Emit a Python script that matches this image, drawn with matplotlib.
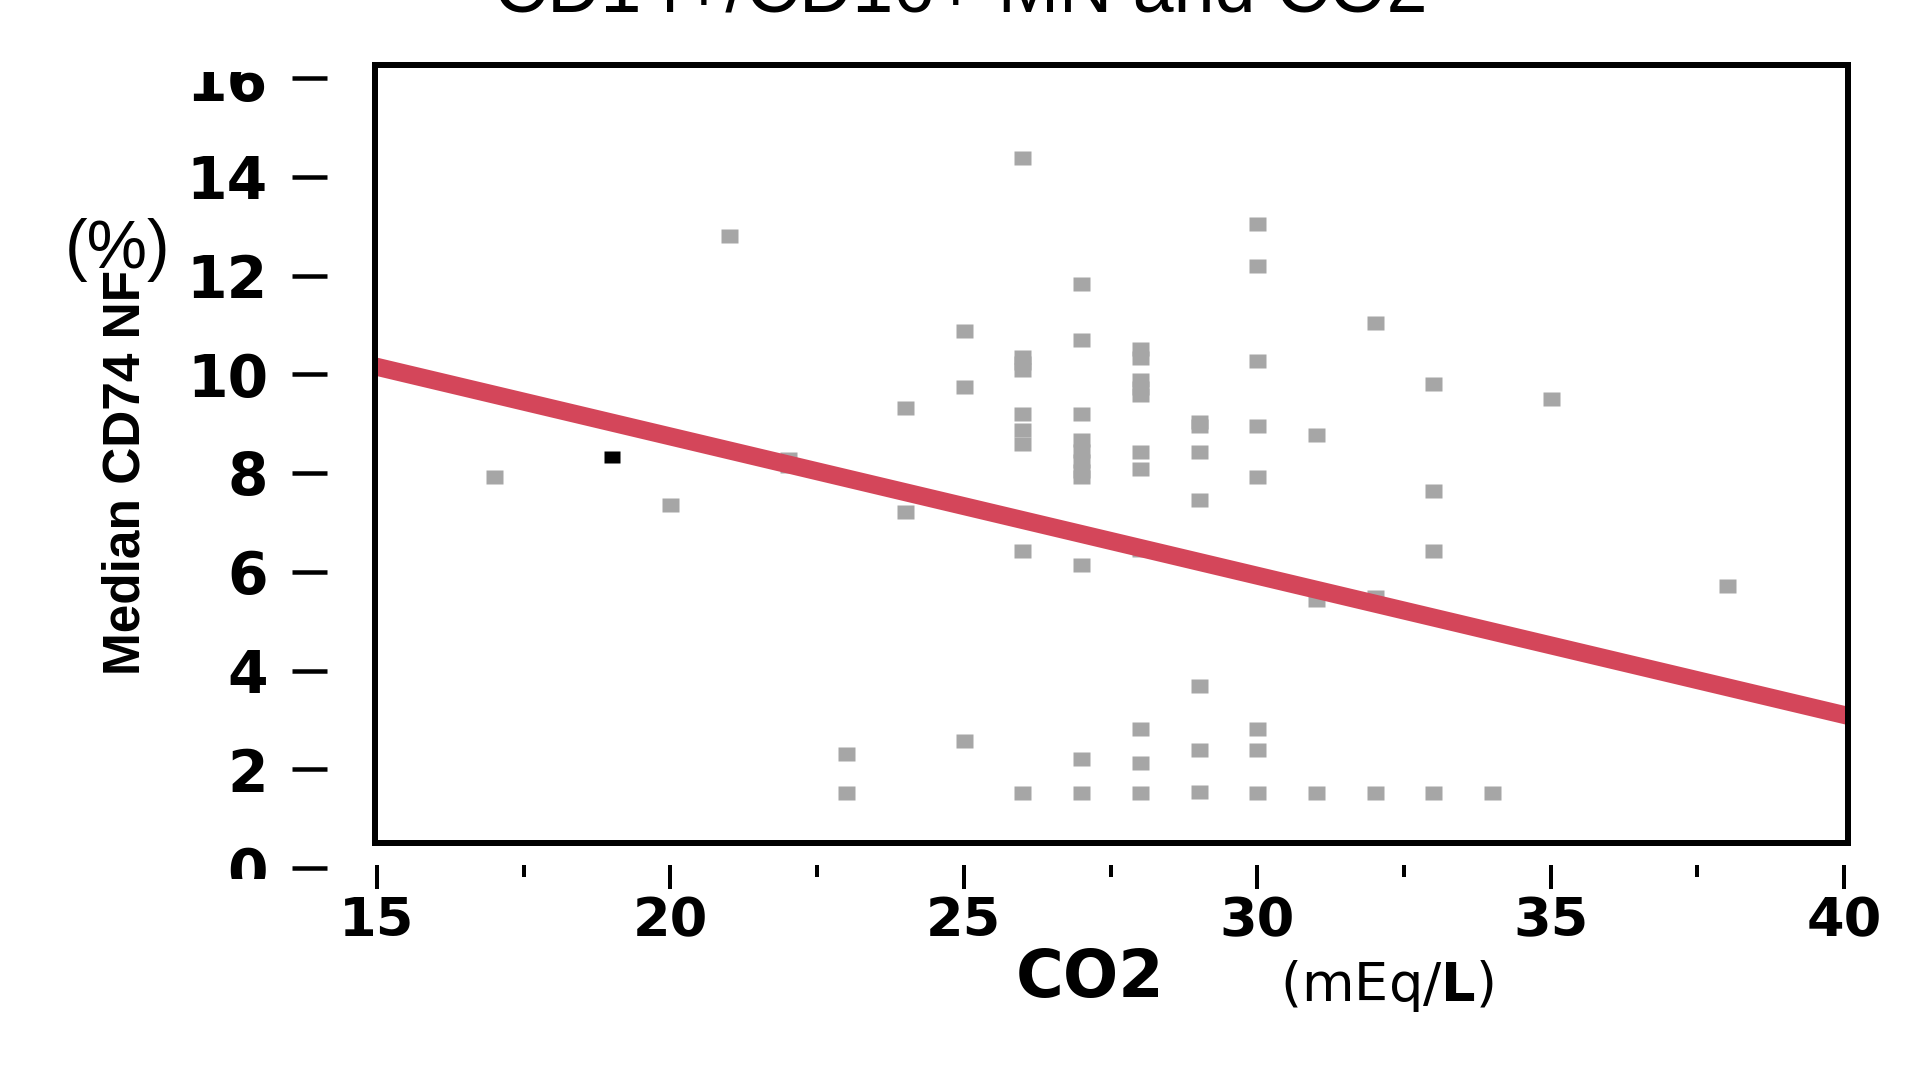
"""
Median CD74 NF (%) against CO2 (mEq/L), with a linear fit line.
Saves out.png at 1919x1075.
"""

import matplotlib
matplotlib.use("Agg")
import matplotlib.pyplot as plt
from matplotlib.transforms import Bbox, TransformedBbox

W, H = 1919, 1075
DPI = 100

# ── data ─────────────────────────────────────────────────────────────────────
CO2 = [17, 20, 21, 22, 22, 23, 23, 24, 24, 25, 25, 25,
       26, 26, 26, 26, 26, 26, 26, 26, 26,
       27, 27, 27, 27, 27, 27, 27, 27, 27, 27, 27,
       28, 28, 28, 28, 28, 28, 28, 28, 28, 28, 28,
       29, 29, 29, 29, 29, 29, 29,
       30, 30, 30, 30, 30, 30, 30, 30,
       31, 31, 31, 32, 32, 32, 33, 33, 33, 33, 34, 35, 38]
CD74 = [7.92, 7.36, 12.79, 8.28, 8.15, 2.31, 1.52, 9.31, 7.21, 10.88, 9.74, 2.57,
        14.38, 10.35, 10.22, 10.09, 9.20, 8.87, 8.58, 6.42, 1.52,
        11.83, 10.70, 9.20, 8.66, 8.45, 8.25, 8.05, 7.91, 6.13, 2.21, 1.52,
        10.51, 10.33, 9.88, 9.73, 9.58, 8.43, 8.08, 6.45, 2.82, 2.13, 1.52,
        9.04, 8.95, 8.43, 7.46, 3.69, 2.39, 1.54,
        13.05, 12.19, 10.27, 8.95, 7.92, 2.82, 2.39, 1.52,
        8.77, 5.43, 1.52, 11.04, 5.49, 1.52, 9.81, 7.64, 6.42, 1.52, 1.52, 9.49, 5.71]

CO2_MARKED = [19]
CD74_MARKED = [8.33]

FIT_X = [15, 40]
FIT_Y = [10.15, 3.10]

X_TICKS = [15, 20, 25, 30, 35, 40]
X_MINOR = [17.5, 22.5, 27.5, 32.5, 37.5]
Y_TICKS = [0, 2, 4, 6, 8, 10, 12, 14, 16]

TITLE = "CD14+/CD16+ MN and CO2"
Y_LABEL = "Median CD74 NF"
Y_UNIT = "(%)"
X_LABEL = "CO2"
X_UNIT = r"(mEq/$\mathbf{L}$)"

GRAY = "#A6A6A6"
RED = "#D4465A"

# pixel positions of the tick values 15/40 and 0/16 in the picture
X_PX = (377, 1844)
Y_PX = (868, 78)

# a slightly wide rectangle, like the reference squares
RECT = [(-1.0, -0.78), (1.0, -0.78), (1.0, 0.78), (-1.0, 0.78), (-1.0, -0.78)]


def pt(pixels):
    return pixels * 72 / DPI


def x_from_px(p):
    return X_TICKS[0] + (p - X_PX[0]) * (X_TICKS[-1] - X_TICKS[0]) / (X_PX[1] - X_PX[0])


def y_from_px(p):
    return (Y_PX[0] - p) * Y_TICKS[-1] / (Y_PX[0] - Y_PX[1])


def main():
    fig = plt.figure(figsize=(W / DPI, H / DPI), dpi=DPI)

    # ── plot box with the points and the fit ─────────────────────────────────
    ax = fig.add_axes([375 / W, 1 - 843 / H, 1473 / W, 778 / H])
    ax.set_xlim(x_from_px(375), x_from_px(1848))
    ax.set_ylim(y_from_px(843), y_from_px(65))
    ax.set_xticks([])
    ax.set_yticks([])
    for s in ax.spines.values():
        s.set_linewidth(pt(6))

    ax.plot(CO2, CD74, ls="none", marker=RECT, ms=pt(17),
            mfc=GRAY, mec="none", zorder=2.1)
    ax.plot(CO2_MARKED, CD74_MARKED, ls="none", marker=RECT, ms=pt(16),
            mfc="black", mec="none", zorder=2.2)
    ax.plot(FIT_X, FIT_Y, color=RED, lw=pt(18),
            solid_capstyle="projecting", zorder=2.4)

    # ── detached axes carrying the ticks ─────────────────────────────────────
    at = fig.add_axes([X_PX[0] / W, 1 - Y_PX[0] / H,
                       (X_PX[1] - X_PX[0]) / W, (Y_PX[0] - Y_PX[1]) / H])
    at.patch.set_visible(False)
    for s in at.spines.values():
        s.set_visible(False)
    at.spines["left"].set_position(("outward", pt(50)))
    at.spines["bottom"].set_position(("outward", pt(-3)))
    at.set_xlim(X_TICKS[0], X_TICKS[-1])
    at.set_ylim(Y_TICKS[0], Y_TICKS[-1])

    at.set_xticks(X_TICKS)
    at.set_xticks(X_MINOR, minor=True)
    at.set_yticks(Y_TICKS)
    at.set_xticklabels([str(t) for t in X_TICKS], fontsize=39, fontweight="bold",
                       family="DejaVu Sans")
    at.set_yticklabels([str(t) for t in Y_TICKS], fontsize=42, fontweight="bold",
                       family="DejaVu Sans")
    at.tick_params(axis="y", length=pt(35), width=pt(4.5), pad=pt(24))
    at.tick_params(axis="x", which="major", length=pt(24), width=pt(4), pad=pt(6))
    at.tick_params(axis="x", which="minor", length=pt(12), width=pt(4))

    # the top and bottom y labels are cut off in the reference
    clip = TransformedBbox(Bbox.from_extents(0, 1 - 879 / H, 1, 1 - 72 / H),
                           fig.transFigure)
    for lab in at.get_yticklabels():
        lab.set_clip_box(clip)
        lab.set_clip_on(True)

    # ── texts ────────────────────────────────────────────────────────────────
    fig.text(126 / W, 1 - 472 / H, Y_LABEL, rotation=90, ha="center", va="center",
             fontsize=37, fontweight="bold", family="Liberation Sans")
    fig.text(118 / W, 1 - 250 / H, Y_UNIT, ha="center", va="center",
             fontsize=49, family="Liberation Sans")

    fig.text(1090 / W, 1 - 997 / H, X_LABEL, ha="center", va="baseline",
             fontsize=47, fontweight="bold", family="DejaVu Sans")
    fig.text(1387 / W, 1 - 1001 / H, X_UNIT, ha="center", va="baseline",
             fontsize=39, family="DejaVu Sans")

    # only the lower edge of the title shows at the top, as in the reference
    fig.text(961 / W, 1 - 11 / H, TITLE, ha="center", va="baseline",
             fontsize=53, family="Liberation Sans")

    fig.savefig("out.png", dpi=DPI)
    plt.close(fig)


if __name__ == "__main__":
    main()
